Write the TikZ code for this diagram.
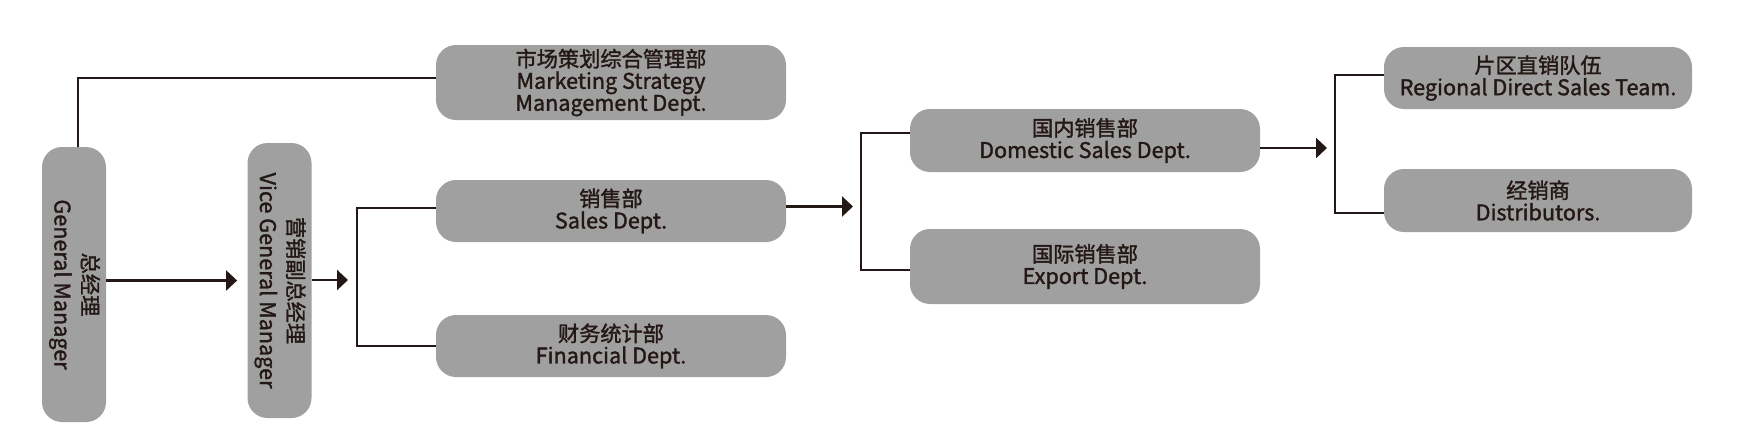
\documentclass[tikz,border=0pt]{standalone}
\usepackage{fontspec}
\setmainfont{Noto Sans CJK SC}[FakeBold=1.5]
\usetikzlibrary{arrows.meta}

\definecolor{boxgray}{HTML}{A0A0A0}
\definecolor{ink}{HTML}{231815}

\newcommand{\cn}[1]{{\fontsize{10.6}{11}\selectfont #1}}

\tikzset{
    dept/.style={fill=boxgray, rounded corners=10pt, inner sep=0pt, align=center,
                 minimum width=175pt, minimum height=31pt, text=ink,
                 font=\fontsize{10.8}{11}\selectfont},
    boss/.style={dept, minimum width=32pt, minimum height=137.5pt},
    conn/.style={draw=ink, line width=1.1pt},
    arr/.style={conn, -{Triangle[length=5.5pt,width=10pt]}}
}

\begin{document}
\begin{tikzpicture}[x=0.5pt, y=-0.5pt]
    \useasboundingbox (0,0) rectangle (1741,430);

    % Managers
    \node [boss] (gm) at (74,284.5)
        {\rotatebox{-90}{\begin{tabular}{@{}c@{}}\cn{总经理}\\[2pt]General Manager\end{tabular}}};
    \node [boss] (vgm) at (279.5,280.5)
        {\rotatebox{-90}{\begin{tabular}{@{}c@{}}\cn{营销副总经理}\\[2pt]Vice General Manager\end{tabular}}};

    % Departments
    \node [dept, minimum height=37.5pt] (mkt) at (611,82.5)
        {\cn{市场策划综合管理部}\\Marketing Strategy\\Management Dept.};
    \node [dept] (sales) at (611,211) {\cn{销售部}\\Sales Dept.};
    \node [dept] (fin) at (611,346) {\cn{财务统计部}\\Financial Dept.};

    % Sales branches
    \node [dept, minimum height=31.5pt] (dom) at (1085,140.5) {\cn{国内销售部}\\Domestic Sales Dept.};
    \node [dept, minimum height=37.5pt] (exp) at (1085,266.5) {\cn{国际销售部}\\Export Dept.};
    \node [dept, minimum width=154pt] (reg) at (1538,78) {\cn{片区直销队伍}\\Regional Direct Sales Team.};
    \node [dept, minimum width=154pt, minimum height=31.5pt] (dist) at (1538,200.5) {\cn{经销商}\\Distributors.};

    % Bracket points
    \coordinate (b1) at (357,280);
    \coordinate (b2) at (861,206.5);
    \coordinate (b3) at (1335,148);

    % Lines
    \draw [conn] ([xshift=2pt]gm.north) |- ([yshift=2.25pt]mkt.west);
    \draw [arr] (gm.east |- vgm.west) -- ([xshift=-5pt]vgm.west);
    \draw [arr] (vgm.east |- b1) -- ([xshift=-4.5pt]b1);
    \draw [conn] ([yshift=1.5pt]sales.west) -| (b1) |- (fin.west);
    \draw [arr] (sales.east |- b2) -- ([xshift=-4pt]b2);
    \draw [conn] ([yshift=3.75pt]dom.west) -| (b2) |- ([yshift=-1.75pt]exp.west);
    \draw [arr] (dom.east |- b3) -- ([xshift=-4pt]b3);
    \draw [conn] ([yshift=1.5pt]reg.west) -| (b3) |- ([yshift=-6.25pt]dist.west);
\end{tikzpicture}
\end{document}
